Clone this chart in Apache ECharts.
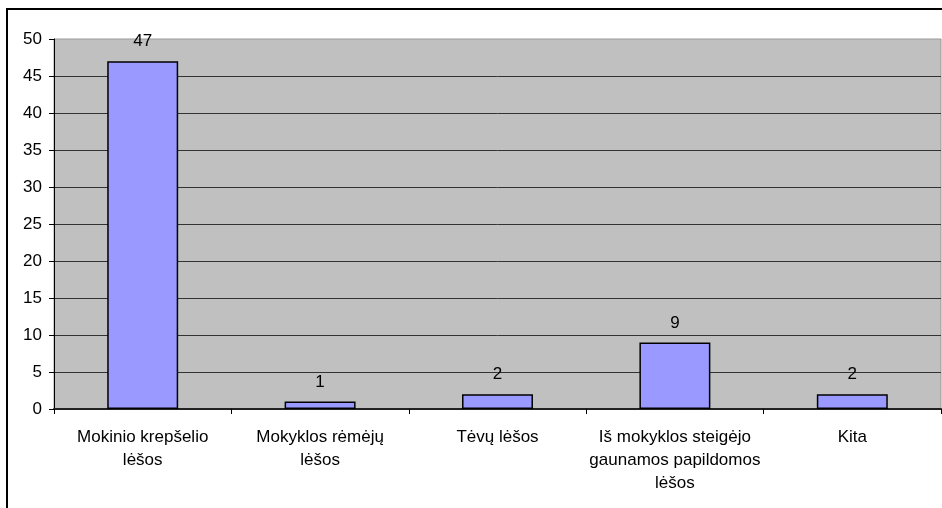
<!DOCTYPE html>
<html>
<head>
<meta charset="utf-8">
<script src="https://cdn.jsdelivr.net/npm/echarts@6/dist/echarts.min.js"></script>
<style>
  html, body { margin: 0; padding: 0; background: #fff; }
  #chart { width: 942px; height: 508px; }
</style>
</head>
<body>
<div id="chart"></div>
<script>
// Funding sources and how many respondents named each one
const categories = [
  'Mokinio krepšelio\nlėšos',
  'Mokyklos rėmėjų\nlėšos',
  'Tėvų lėšos',
  'Iš mokyklos steigėjo\ngaunamos papildomos\nlėšos',
  'Kita'
];
const counts = [47, 1, 2, 9, 2];
const yTicks = [0, 5, 10, 15, 20, 25, 30, 35, 40, 45, 50];

const font = 'Liberation Sans, Arial, sans-serif';
const chart = echarts.init(document.getElementById('chart'), null, { renderer: 'canvas' });

chart.setOption({
  animation: false,
  backgroundColor: '#ffffff',
  graphic: [{
    type: 'rect',
    shape: { x: 7, y: 9, width: 1000, height: 1000 },
    style: { fill: 'none', stroke: '#000', lineWidth: 2 },
    z: 100
  }],
  grid: {
    left: 54, right: 1, top: 39, bottom: 99,
    show: true,
    backgroundColor: '#c0c0c0',
    borderColor: '#999999',
    borderWidth: 1
  },
  xAxis: {
    type: 'category',
    data: categories,
    axisLine: { show: true, lineStyle: { color: '#222', width: 2 } },
    axisTick: { show: true, alignWithLabel: false, length: 5, lineStyle: { color: '#000' } },
    axisLabel: {
      color: '#000', fontFamily: font, fontSize: 17, lineHeight: 23,
      margin: 17, interval: 0
    }
  },
  yAxis: {
    type: 'value',
    min: yTicks[0],
    max: yTicks[yTicks.length - 1],
    interval: 5,
    axisLine: { show: true, lineStyle: { color: '#000', width: 1 } },
    axisTick: { show: true, length: 5, lineStyle: { color: '#000' } },
    axisLabel: { color: '#000', fontFamily: font, fontSize: 17, margin: 12 },
    splitLine: {
      show: true, showMaxLine: false, showMinLine: false,
      lineStyle: { color: '#333333', width: 1 }
    }
  },
  series: [{
    type: 'bar',
    data: counts,
    barCategoryGap: '60%',
    itemStyle: { color: '#9999ff', borderColor: '#000', borderWidth: 1.5 },
    label: {
      show: true, position: 'top', distance: 11,
      color: '#000', fontFamily: font, fontSize: 17
    }
  }]
});
</script>
</body>
</html>
